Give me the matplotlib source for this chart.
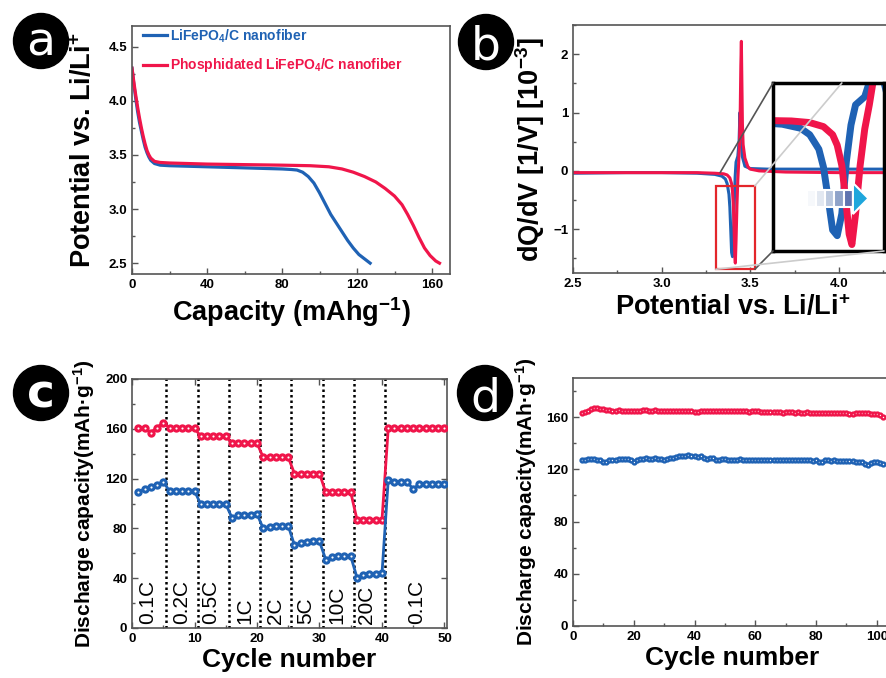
import matplotlib
matplotlib.use('Agg')
import matplotlib.pyplot as plt
from matplotlib.patches import Ellipse, Rectangle, Polygon, ConnectionPatch
from matplotlib.ticker import MultipleLocator

plt.rcParams['font.family'] = 'Liberation Sans'
plt.rcParams['font.weight'] = 'bold'
plt.rcParams['mathtext.fontset'] = 'custom'
plt.rcParams['mathtext.bf'] = 'Liberation Sans:bold'
plt.rcParams['mathtext.rm'] = 'Liberation Sans:bold'
plt.rcParams['mathtext.default'] = 'bf'

BLUE = '#1f62b4'
RED = '#f0154a'

# (a) discharge profiles
cap_blue = [0, 1, 2, 3, 4, 5, 6, 7, 8, 9, 10, 12, 15, 20, 30, 40, 50, 60, 70, 80, 85, 88,
            91, 94, 97, 100, 103, 106, 109, 112, 115, 118, 121, 124, 127]
v_blue = [4.30, 4.15, 4.02, 3.90, 3.80, 3.72, 3.64, 3.57, 3.52, 3.48, 3.45, 3.42, 3.405, 3.40,
          3.395, 3.39, 3.385, 3.38, 3.375, 3.37, 3.365, 3.36, 3.34, 3.30, 3.24, 3.15, 3.05,
          2.95, 2.87, 2.79, 2.71, 2.64, 2.58, 2.54, 2.50]
cap_red = [0, 1, 2, 3, 4, 5, 6, 7, 8, 9, 10, 12, 15, 20, 40, 60, 80, 95, 105, 112, 118, 124,
           130, 135, 140, 144, 147, 150, 153, 156, 159, 162, 164]
v_red = [4.30, 4.17, 4.05, 3.94, 3.84, 3.75, 3.67, 3.60, 3.54, 3.50, 3.47, 3.44, 3.43, 3.425,
         3.415, 3.41, 3.405, 3.40, 3.39, 3.37, 3.34, 3.30, 3.25, 3.19, 3.12, 3.04, 2.95, 2.85,
         2.74, 2.64, 2.57, 2.52, 2.50]

# (b) dQ/dV
pot_blue = [2.50, 2.80, 3.00, 3.20, 3.30, 3.34, 3.36, 3.37, 3.38, 3.385, 3.39, 3.395, 3.40,
            3.405, 3.41, 3.415, 3.42, 3.43, 3.437, 3.442, 3.447, 3.455, 3.47, 3.50, 3.60,
            3.80, 4.00, 4.30]
dq_blue = [-0.04, -0.03, -0.03, -0.04, -0.06, -0.09, -0.14, -0.22, -0.40, -0.62, -1.00, -1.40,
           -1.47, -1.20, -0.55, -0.10, 0.15, 0.25, 0.50, 1.00, 0.60, 0.25, 0.08, 0.04, 0.03,
           0.03, 0.03, 0.03]
pot_red = [2.50, 2.80, 3.00, 3.20, 3.30, 3.35, 3.37, 3.385, 3.395, 3.40, 3.405, 3.41, 3.413,
           3.416, 3.42, 3.425, 3.43, 3.435, 3.44, 3.444, 3.447, 3.450, 3.453, 3.456, 3.46,
           3.47, 3.487, 3.50, 3.55, 3.70, 4.00, 4.30]
dq_red = [-0.03, -0.03, -0.03, -0.03, -0.04, -0.05, -0.07, -0.12, -0.22, -0.35, -0.60, -1.10,
          -1.45, -1.58, -1.20, -0.60, -0.15, 0.15, 0.50, 1.10, 1.80, 2.22, 1.50, 0.80, 0.45,
          0.22, 0.07, 0.03, 0.00, -0.02, -0.03, -0.03]

# (c) rate capability
rate_cycles = list(range(1, 51))
rate_red = [161, 160.5, 157, 161, 165, 160.5, 160.5, 160.5, 160.5, 160.5,
            154, 154, 154, 154, 154, 148.5, 148.5, 148.5, 148.5, 148.5,
            137, 137, 137, 137, 137, 124, 124, 124, 124, 124,
            109, 109, 109, 109, 109, 87, 87, 87, 87, 87,
            160.5, 160.5, 160.5, 160.5, 160.5, 160.5, 160.5, 160.5, 160.5, 160.5]
rate_blue = [109.5, 111.5, 113, 115, 117.5, 110, 110, 110, 110, 110,
             99.5, 99.5, 99.5, 99.5, 99.5, 88.5, 90.5, 91, 91, 91.5,
             80, 81.5, 82, 82, 82, 66.5, 68.5, 69, 69.5, 69.5,
             55, 57, 57.5, 57.5, 57.5, 40.5, 42.5, 43, 43.5, 44,
             119, 117.5, 117.5, 117.5, 111.5, 116, 116, 116, 116, 116]
rate_bounds = [5.5, 10.5, 15.5, 20.5, 25.5, 30.5, 35.5, 40.5]
rate_labels = ['0.1C', '0.2C', '0.5C', '1C', '2C', '5C', '10C', '20C', '0.1C']
rate_label_x = [2.5, 8.0, 12.6, 18.1, 22.9, 27.8, 32.8, 37.6, 45.5]

# (d) cycling at 1C
cyc = list(range(3, 103))
cyc_red = [163, 164, 165, 166, 167, 167, 166, 166, 165.5, 165.5,
           165, 165, 165.5, 165, 165, 165, 164.5, 165,
           165, 165, 165.5, 165.5, 165, 165, 165.5, 165, 165, 165,
           165, 165, 165, 165, 165, 165, 164.5, 165, 165, 164,
           164, 164.5, 164.5, 164.5, 164.5, 164.5, 164.5, 164.5, 164.5, 164.5,
           164.5, 164.5, 164.5, 164.5, 164.5, 164.5, 164.5, 164, 164.5, 164.5,
           164.5, 164, 164, 164, 164, 164, 164, 164, 163.5, 164,
           164, 164, 163.5, 164, 163.5, 163.5, 164, 163.5, 163.5, 163.5,
           163.5, 163.5, 163.5, 163.5, 163.5, 163.5, 163.5, 163.5, 163, 163,
           162.5, 162.5, 163, 163, 163, 163, 163, 162.5, 162.5, 162.5,
           161.5, 160.5]
cyc_blue = [127, 127.5, 128, 128, 128, 127.5, 127, 126, 126, 127,
            127.5, 127.5, 128, 128, 128, 128, 127.5, 126,
            127.5, 128, 128, 128.5, 128, 128, 128.5, 128, 128, 127.5,
            128, 128.5, 129, 129.5, 130, 130.5, 130, 131, 130, 130,
            129.5, 130, 129, 128, 128.5, 129, 127.5, 127, 128, 128,
            127.5, 127, 127.5, 127.5, 128, 127.5, 127, 127, 127, 127,
            127, 127, 127.5, 127.5, 127, 127, 127, 127, 127, 127.5,
            127, 127, 127, 127, 127, 127, 127, 127, 126.5, 127,
            126, 126, 127, 127, 126.5, 127, 126.5, 126.5, 126.5, 126.5,
            126.5, 126.5, 126, 126, 125.5, 124, 123.5, 125, 125.5, 125.5,
            125, 124]

W, H = 886, 678
fig = plt.figure(figsize=(W / 100, H / 100), dpi=100)


def px_axes(left, top, right, bottom):
    return fig.add_axes([left / W, 1 - bottom / H, (right - left) / W, (bottom - top) / H])


def style(ax, mirror=False):
    for s in ax.spines.values():
        s.set_color('#555555')
        s.set_linewidth(1.2)
    ax.tick_params(which='both', direction='in', width=1, colors='#555555',
                   labelcolor='black', labelsize=9.5, top=mirror, right=mirror)
    ax.tick_params(which='major', length=4)
    ax.tick_params(which='minor', length=2.5, top=False, right=False)
    for lab in ax.get_xticklabels() + ax.get_yticklabels():
        lab.set_fontweight('bold')


def badge(cx, cy, letter, dy, weight='normal'):
    fig.add_artist(Ellipse((cx / W, 1 - cy / H), 55 / W, 55 / H,
                           transform=fig.transFigure, color='black'))
    fig.text(cx / W, 1 - (cy + dy) / H, letter, color='white', fontsize=34,
             fontweight=weight, family='DejaVu Sans', ha='center', va='baseline')


# ---- panel a
axa = px_axes(132, 26, 450, 274)
axa.plot(cap_blue, v_blue, color=BLUE, lw=2.3, label='LiFePO$_4$/C nanofiber')
axa.plot(cap_red, v_red, color=RED, lw=2.3, label='Phosphidated LiFePO$_4$/C nanofiber')
axa.set_xlim(0, 169.6)
axa.set_ylim(2.4, 4.69)
axa.xaxis.set_major_locator(MultipleLocator(40))
axa.xaxis.set_minor_locator(MultipleLocator(20))
axa.yaxis.set_major_locator(MultipleLocator(0.5))
axa.yaxis.set_minor_locator(MultipleLocator(0.25))
axa.set_xlabel('Capacity (mAhg$^{-1}$)', fontsize=19.5, fontweight='bold', labelpad=3)
axa.set_ylabel('Potential vs. Li/Li$^{+}$', fontsize=19.5, fontweight='bold', labelpad=8)
axa.legend(loc='upper left', bbox_to_anchor=(0.035, 0.995), frameon=False, borderpad=0,
           borderaxespad=0, handlelength=1.75, handletextpad=0.2, labelspacing=0.85,
           labelcolor='linecolor', prop={'weight': 'bold', 'size': 10})
style(axa)

# ---- panel b
axb = px_axes(573, 25, 892, 273)
axb.plot(pot_blue, dq_blue, color=BLUE, lw=2.2)
axb.plot(pot_red, dq_red, color=RED, lw=2.2)
axb.set_xlim(2.5, 4.3)
axb.set_ylim(-1.75, 2.5)
axb.xaxis.set_major_locator(MultipleLocator(0.5))
axb.xaxis.set_minor_locator(MultipleLocator(0.25))
axb.yaxis.set_major_locator(MultipleLocator(1))
axb.yaxis.set_minor_locator(MultipleLocator(0.5))
axb.set_xlabel('Potential vs. Li/Li$^{+}$', fontsize=19.5, fontweight='bold', labelpad=3)
axb.set_ylabel('dQ/dV [1/V] [10$^{-3}$]', fontsize=19.5, fontweight='bold', labelpad=4)
style(axb)
axb.add_patch(Rectangle((3.306, -1.686), 0.22, 1.43, fill=False, ec='#e3262b', lw=1.6, zorder=5))

# inset (magnified view of the boxed region)
axin = px_axes(773, 83, 884, 251)
axin.set_facecolor('none')
axin.plot(pot_blue, dq_blue, color=BLUE, lw=5, solid_capstyle='round')
axin.plot(pot_red, dq_red, color=RED, lw=5, solid_capstyle='round')
axin.set_xlim(3.330, 3.451)
axin.set_ylim(-1.66, 0.42)
axin.set_xticks([])
axin.set_yticks([])
for s in axin.spines.values():
    s.set_color('black')
    s.set_linewidth(2.5)

seg_x = [0.305, 0.388, 0.471, 0.554, 0.637]
seg_c = ['#f6f8fb', '#e2e8f1', '#bcc9df', '#8fa3c9', '#5f74b0']
for x0, c in zip(seg_x, seg_c):
    axin.add_patch(Rectangle((x0, 0.262), 0.083, 0.101, transform=axin.transAxes,
                             fc=c, ec='white', lw=1.5, zorder=6))
axin.add_patch(Polygon([(0.72, 0.22), (0.86, 0.313), (0.72, 0.405)], closed=True,
                       transform=axin.transAxes, fc='#1ea6dc', ec='white', lw=1.5, zorder=6))

for xa, xb, col in [((3.33, -0.03), (0, 1), '#555555'),
                    ((3.526, -0.257), (0.62, 1), '#cccccc'),
                    ((3.526, -1.686), (0, 0), '#555555'),
                    ((3.306, -1.686), (1, 0), '#cccccc')]:
    fig.add_artist(ConnectionPatch(xyA=xa, coordsA='data', axesA=axb, xyB=xb,
                                   coordsB='axes fraction', axesB=axin, color=col, lw=1.2))

# ---- panel c
axc = px_axes(132, 379, 447, 628)
for b in rate_bounds:
    axc.axvline(b, color='black', lw=1.8, dashes=(1, 1.2), zorder=1)
axc.plot(rate_cycles, rate_red, color=RED, lw=2, marker='o', ms=3.8, mfc='white', mec=RED,
         mew=2.2, zorder=3)
axc.plot(rate_cycles, rate_blue, color=BLUE, lw=2, marker='o', ms=3.8, mfc='white', mec=BLUE,
         mew=2.2, zorder=3)
for x, t in zip(rate_label_x, rate_labels):
    axc.text(x, 3, t, rotation=90, ha='center', va='bottom', fontsize=15, fontweight='normal')
axc.set_xlim(0, 50.4)
axc.set_ylim(0, 200)
axc.xaxis.set_major_locator(MultipleLocator(10))
axc.xaxis.set_minor_locator(MultipleLocator(5))
axc.yaxis.set_major_locator(MultipleLocator(40))
axc.yaxis.set_minor_locator(MultipleLocator(20))
axc.set_xlabel('Cycle number', fontsize=19, fontweight='bold', labelpad=2)
axc.set_ylabel('Discharge capacity(mAh·g$^{-1}$)', fontsize=15, fontweight='bold', labelpad=6)
style(axc, mirror=True)

# ---- panel d
axd = px_axes(573, 378, 892, 626)
axd.plot(cyc, cyc_red, color=RED, lw=1.5, marker='o', ms=2.8, mfc='white', mec=RED, mew=1.7)
axd.plot(cyc, cyc_blue, color=BLUE, lw=1.5, marker='o', ms=2.8, mfc='white', mec=BLUE, mew=1.7)
axd.set_xlim(0, 105)
axd.set_ylim(0, 190)
axd.xaxis.set_major_locator(MultipleLocator(20))
axd.xaxis.set_minor_locator(MultipleLocator(10))
axd.yaxis.set_major_locator(MultipleLocator(40))
axd.yaxis.set_minor_locator(MultipleLocator(20))
axd.set_xlabel('Cycle number', fontsize=19, fontweight='bold', labelpad=2)
axd.set_ylabel('Discharge capacity(mAh·g$^{-1}$)', fontsize=15, fontweight='bold', labelpad=5)
style(axd)

badge(41, 41, 'a', 14)
badge(486, 42, 'b', 18)
badge(41, 393, 'c', 14, weight='bold')
badge(485, 393, 'd', 18)

fig.savefig('out.png', dpi=100)
